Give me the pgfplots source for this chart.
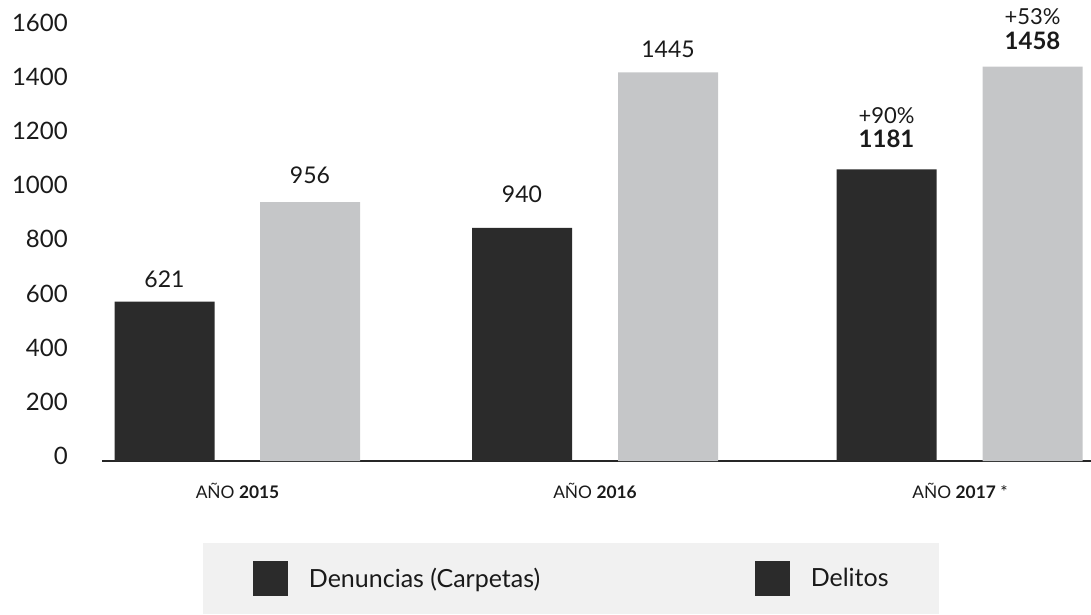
\documentclass[border=0pt]{standalone}
\usepackage{fontspec}
\setmainfont{Lato}
\usepackage{pgfplots}
\pgfplotsset{compat=1.18}
\definecolor{darkbar}{HTML}{2B2B2B}
\definecolor{lightbar}{HTML}{C5C6C8}
\definecolor{legbg}{HTML}{F1F1F1}
\definecolor{txt}{HTML}{1A1A1A}
\begin{document}
\begin{tikzpicture}
\useasboundingbox (0,0) rectangle (818.25pt,460.5pt);
\begin{axis}[
  at={(76.5pt,114.75pt)}, anchor=south west,
  scale only axis, width=741.75pt, height=345.5pt,
  xmin=102, xmax=1091, ymin=0, ymax=1700,
  clip=false,
  axis x line*=bottom, axis y line*=left,
  x axis line style={-, line width=1.5pt, draw=black!85},
  y axis line style={draw=none},
  xtick style={draw=none}, ytick style={draw=none},
  ytick={0,200,...,1600},
  /pgf/number format/1000 sep={},
  /pgf/number format/assume math mode=true,
  yticklabel style={anchor=east, inner sep=0pt, xshift=-25.5pt, yshift=3.75pt,
    font=\fontsize{18pt}{20pt}\selectfont, text=txt},
  xtick={237.5,595,960},
  xticklabels={{AÑO \textbf{2015}},{AÑO \textbf{2016}},{AÑO \textbf{2017} *}},
  xticklabel style={anchor=base, inner sep=0pt, yshift=-27.75pt,
    font=\fontsize{13pt}{15pt}\selectfont, text=txt},
  legend columns=2,
  legend style={at={(0.4742,-0.2551)}, anchor=center, fill=legbg, draw=none,
    inner xsep=37.5pt, inner ysep=13.875pt,
    nodes={inner sep=0pt},
    font=\fontsize{18.75pt}{22pt}\selectfont, text=txt,
    /tikz/every odd column/.append style={column sep=15.75pt},
    /tikz/every even column/.append style={column sep=161.25pt}},
  legend cell align=left,
]
% bars (visual heights)
\addplot[ybar, bar width=100, bar shift=0pt, fill=darkbar, draw=none, forget plot]
  coordinates {(164.5,588) (522,860) (886.5,1076)};
\addplot[ybar, bar width=100, bar shift=0pt, fill=lightbar, draw=none, forget plot]
  coordinates {(310,955) (668,1434) (1032.5,1455)};
% value labels
\addplot[draw=none, forget plot, nodes near coords, point meta=explicit symbolic,
  every node near coord/.append style={anchor=south, inner sep=0pt, text=txt,
    font=\fontsize{17.25pt}{19pt}\selectfont}]
  coordinates {(164.5,638.4) [621] (310,1022) [956] (522,952) [940] (668,1487) [1445]};
\addplot[draw=none, forget plot, nodes near coords, point meta=explicit symbolic,
  every node near coord/.append style={anchor=south, inner sep=0pt, text=txt,
    font=\fontsize{18pt}{20pt}\selectfont\bfseries}]
  coordinates {(886.5,1155) [1181] (1032.5,1516.6) [1458]};
\addplot[draw=none, forget plot, nodes near coords, point meta=explicit symbolic,
  every node near coord/.append style={anchor=south, inner sep=0pt, text=txt,
    font=\fontsize{16.5pt}{18pt}\selectfont}]
  coordinates {(886.5,1243.5) [+90\%] (1032.5,1608.9) [+53\%]};
% legend
\addlegendimage{legend image code/.code={\fill[darkbar] (0pt,-12.75pt) rectangle (25.5pt,12.75pt);}}
\addlegendentry{Denuncias (Carpetas)}
\addlegendimage{legend image code/.code={\fill[darkbar] (0pt,-12.75pt) rectangle (25.5pt,12.75pt);}}
\addlegendentry{Delitos}
\end{axis}
\end{tikzpicture}
\end{document}
